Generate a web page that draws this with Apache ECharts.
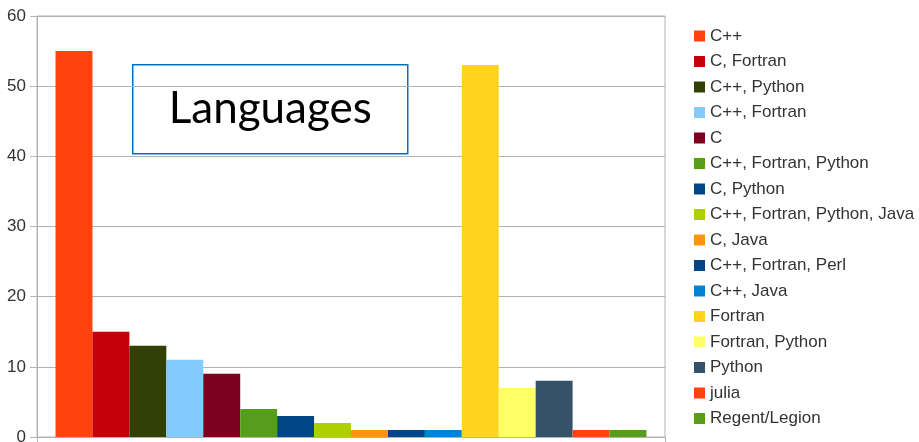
<!DOCTYPE html>
<html>
<head>
<meta charset="utf-8">
<script src="https://cdn.jsdelivr.net/npm/echarts@6/dist/echarts.min.js"></script>
<style>html,body{margin:0;padding:0;background:#fff;}#c{width:919px;height:442px;}</style>
</head>
<body>
<div id="c"></div>
<script>
const categories = ['Languages'];
const seriesNames = ['C++', 'C, Fortran', 'C++, Python', 'C++, Fortran', 'C', 'C++, Fortran, Python', 'C, Python', 'C++, Fortran, Python, Java', 'C, Java', 'C++, Fortran, Perl', 'C++, Java', 'Fortran', 'Fortran, Python', 'Python', 'julia', 'Regent/Legion'];
const seriesValues = [55, 15, 13, 11, 9, 4, 3, 2, 1, 1, 1, 53, 7, 8, 1, 1];
const yTicks = [0, 10, 20, 30, 40, 50, 60];
const palette = ['#ff420e', '#c5000b', '#314004', '#83caff', '#7e0021', '#579d1c', '#004586', '#aecf00', '#ff950e', '#004586', '#0084d1', '#ffd320', '#ffff66', '#355269', '#ff420e', '#579d1c'];

const chart = echarts.init(document.getElementById('c'));
const FONT = '"Liberation Sans", Arial, sans-serif';
chart.setOption({
  animation: false,
  color: palette,
  grid: { left: 37, top: 16, width: 628, height: 421, show: true, borderColor: '#b3b3b3', borderWidth: 1, containLabel: false, outerBoundsMode: 'none' },
  legend: {
    orient: 'vertical', left: 689, top: 22.5, itemWidth: 11, itemHeight: 11, itemGap: 8.5, itemTextGap: 5,
    icon: 'rect',
    textStyle: { fontFamily: FONT, fontSize: 17, lineHeight: 17, color: '#333' },
    data: seriesNames
  },
  xAxis: {
    type: 'category', data: categories,
    axisLine: { lineStyle: { color: '#b3b3b3' } },
    axisTick: { show: true, length: 5, lineStyle: { color: '#b3b3b3' } },
    axisLabel: { show: false }
  },
  yAxis: {
    type: 'value', min: yTicks[0], max: yTicks[yTicks.length - 1], interval: 10,
    axisLine: { show: true, lineStyle: { color: '#b3b3b3' } },
    axisTick: { show: true, length: 7, lineStyle: { color: '#b3b3b3' } },
    axisLabel: { fontFamily: FONT, fontSize: 17, color: '#333', margin: 11 },
    splitLine: { lineStyle: { color: '#b3b3b3' } }
  },
  series: seriesNames.map((n, i) => ({
    name: n, type: 'bar', data: [seriesValues[i]],
    barGap: '0%', barCategoryGap: '5.9%'
  })),
  graphic: [{
    type: 'group', left: 132, top: 64,
    children: [
      { type: 'rect', shape: { x: 0, y: 0, width: 275, height: 89 }, style: { fill: '#fff', stroke: '#0070c0', lineWidth: 1.5 } },
      { type: 'text', x: 137.5, y: 44.5, style: { text: 'Languages', fontFamily: 'Lato, "Open Sans", sans-serif', fontSize: 44, fill: '#000', align: 'center', verticalAlign: 'middle' } }
    ]
  }]
});
</script>
</body>
</html>
